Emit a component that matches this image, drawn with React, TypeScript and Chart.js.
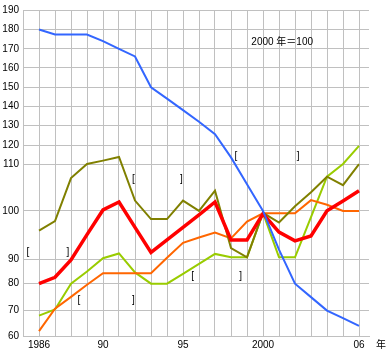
import React, { useEffect, useRef } from "react";
import { Chart, LinearScale, registerables } from "chart.js";

Chart.register(...registerables);

// ---- data ----
const YEARS = [1986, 1987, 1988, 1989, 1990, 1991, 1992, 1993, 1994, 1995, 1996, 1997, 1998, 1999, 2000, 2001, 2002, 2003, 2004, 2005, 2006];
const BLUE = [180, 177.4, 177.4, 177.4, 174, 170, 166, 150, 144, 138, 132, 125.6, 113.5, 105.7, 100, 92, 80, 75, 70, 67, 64];
const RED = [80, 82.6, 89.7, 95.1, 100.2, 101.9, 96.6, 91.4, 94, 96.6, 99.2, 101.9, 94, 94, 99.4, 95.6, 93.8, 94.8, 100, 102.1, 104.3];
const OLIVE = [95.9, 97.9, 107, 110, 111.8, 113.7, 102.2, 98.3, 98.3, 102.2, 100, 104.3, 92.3, 90.4, 99.6, 97.6, 101, 104, 107.3, 105.5, 110];
const ORANGE = [61.9, 70.7, 75.1, 79.6, 84.3, 84.3, 84.3, 84.3, 90.3, 93.4, 94.5, 95.5, 94.3, 97.8, 99.5, 99.5, 99.5, 102.3, 101.3, 100, 100];
const GREEN = [68, 70.4, 80, 85, 90.2, 91.2, 84.6, 80, 80, 84, 88.1, 91.1, 90.4, 90.4, 99.6, 90.4, 90.4, 98.7, 107.3, 110, 119.6];

const X_GRID = [1985, ...YEARS];
const X_LABELS: Record<number, string> = { 1986: "1986", 1990: "90", 1995: "95", 2000: "2000", 2006: "06" };
const Y_TICKS = [60, 70, 80, 90, 100, 110, 120, 130, 140, 150, 160, 170, 180, 190];

const BRACKET_TEXTS = ["[", "]", "[", "]", "[", "]", "[", "]", "[", "]"];
const BRACKET_YEARS = [1985.3, 1987.8, 1991.9, 1994.9, 1988.5, 1991.9, 1998.3, 2002.2, 1995.6, 1998.6];
const BRACKET_VALUES = [91.4, 91.4, 106.7, 106.7, 73.8, 73.8, 114.3, 114.3, 83, 83];

const NOTE_TEXT = "2000 年＝100";
const NOTE_YEAR = 2001.2;
const NOTE_VALUE = 173.5;
const X_UNIT = "年";

// ---- non-uniform vertical scale (positions of tick lines from the bottom, px) ----
const Y_OFFSETS = [0, 25.5, 52.5, 77, 125.5, 172.5, 191.5, 211, 230.5, 249.5, 269, 288, 307.5, 327];
const Y_TOTAL = 327;

function valueToDecimal(v: number): number {
  const n = Y_TICKS.length;
  if (v <= Y_TICKS[0]) {
    const s = (Y_OFFSETS[1] - Y_OFFSETS[0]) / (Y_TICKS[1] - Y_TICKS[0]);
    return (Y_OFFSETS[0] + (v - Y_TICKS[0]) * s) / Y_TOTAL;
  }
  for (let i = 0; i < n - 1; i++) {
    if (v <= Y_TICKS[i + 1]) {
      const t = (v - Y_TICKS[i]) / (Y_TICKS[i + 1] - Y_TICKS[i]);
      return (Y_OFFSETS[i] + t * (Y_OFFSETS[i + 1] - Y_OFFSETS[i])) / Y_TOTAL;
    }
  }
  const s = (Y_OFFSETS[n - 1] - Y_OFFSETS[n - 2]) / (Y_TICKS[n - 1] - Y_TICKS[n - 2]);
  return (Y_OFFSETS[n - 1] + (v - Y_TICKS[n - 1]) * s) / Y_TOTAL;
}

function decimalToValue(d: number): number {
  const off = d * Y_TOTAL;
  for (let i = 0; i < Y_TICKS.length - 1; i++) {
    if (off <= Y_OFFSETS[i + 1]) {
      const t = (off - Y_OFFSETS[i]) / (Y_OFFSETS[i + 1] - Y_OFFSETS[i]);
      return Y_TICKS[i] + t * (Y_TICKS[i + 1] - Y_TICKS[i]);
    }
  }
  return Y_TICKS[Y_TICKS.length - 1];
}

class PiecewiseScale extends LinearScale {
  static id = "piecewise";
  getPixelForValue(value: any) {
    if (value === null || value === undefined) return NaN;
    return this.getPixelForDecimal(valueToDecimal(value));
  }
  getValueForPixel(pixel: number) {
    return decimalToValue(this.getDecimalForPixel(pixel));
  }
}
Chart.register(PiecewiseScale as any);

const FONT_FAMILY = "'Liberation Sans', Arial, 'Noto Sans CJK JP', sans-serif";
const GRID = "#c0c0c0";

const notesPlugin = {
  id: "notes",
  afterDatasetsDraw(chart: any) {
    const { ctx, chartArea } = chart;
    const x = chart.scales.x;
    const y = chart.scales.y;
    ctx.save();
    ctx.fillStyle = "#000";
    ctx.font = `10px ${FONT_FAMILY}`;
    ctx.textAlign = "center";
    ctx.textBaseline = "middle";
    BRACKET_TEXTS.forEach((t, i) => {
      ctx.fillText(t, x.getPixelForValue(BRACKET_YEARS[i]), y.getPixelForValue(BRACKET_VALUES[i]));
    });
    ctx.fillText(NOTE_TEXT, x.getPixelForValue(NOTE_YEAR), y.getPixelForValue(NOTE_VALUE));
    ctx.fillText(X_UNIT, chartArea.right + 12, chartArea.bottom + 9);
    ctx.restore();
  },
};

function series(values: number[]) {
  return YEARS.map((yr, i) => ({ x: yr, y: values[i] }));
}

export default function App() {
  const ref = useRef<HTMLCanvasElement | null>(null);
  useEffect(() => {
    if (!ref.current) return;
    const mk = (data: number[], color: string, width: number) => ({
      data: series(data),
      borderColor: color,
      backgroundColor: color,
      borderWidth: width,
      pointRadius: 0,
      tension: 0,
      fill: false,
    });
    const chart = new Chart(ref.current, {
      type: "line",
      data: {
        datasets: [
          mk(BLUE, "#3366ff", 2),
          mk(RED, "#ff0000", 3.5),
          mk(OLIVE, "#808000", 2),
          mk(ORANGE, "#ff6600", 2),
          mk(GREEN, "#99cc00", 2),
        ] as any,
      },
      options: {
        animation: false,
        responsive: false,
        devicePixelRatio: 1,
        events: [],
        layout: { padding: { top: 9, right: 19, left: 0, bottom: 0 } },
        plugins: { legend: { display: false }, tooltip: { enabled: false }, title: { display: false } },
        font: { family: FONT_FAMILY, size: 10 },
        scales: {
          x: {
            type: "linear",
            min: 1985,
            max: 2006.625,
            grid: { color: GRID, lineWidth: 1, drawTicks: false },
            border: { color: GRID, width: 1 },
            afterBuildTicks: (s: any) => {
              s.ticks = X_GRID.map((v) => ({ value: v }));
            },
            afterFit: (s: any) => {
              s.height = 17;
            },
            ticks: {
              autoSkip: false,
              maxRotation: 0,
              padding: 3,
              color: "#000",
              font: { family: FONT_FAMILY, size: 10 },
              callback: (v: any) => X_LABELS[v as number] ?? "",
            },
          },
          y: {
            type: "piecewise" as any,
            min: 60,
            max: 190,
            grid: { color: GRID, lineWidth: 1, drawTicks: false },
            border: { color: GRID, width: 1 },
            afterBuildTicks: (s: any) => {
              s.ticks = Y_TICKS.map((v) => ({ value: v }));
            },
            afterFit: (s: any) => {
              s.width = 23;
            },
            ticks: {
              autoSkip: false,
              padding: 4,
              color: "#000",
              font: { family: FONT_FAMILY, size: 10 },
              callback: (v: any) => String(v),
            },
          },
        } as any,
      },
      plugins: [notesPlugin],
    });
    return () => chart.destroy();
  }, []);
  return (
    <div style={{ position: "absolute", left: 0, top: 0, width: 388, height: 353, background: "#fff" }}>
      <canvas ref={ref} width={388} height={353} style={{ display: "block", width: 388, height: 353 }} />
    </div>
  );
}
